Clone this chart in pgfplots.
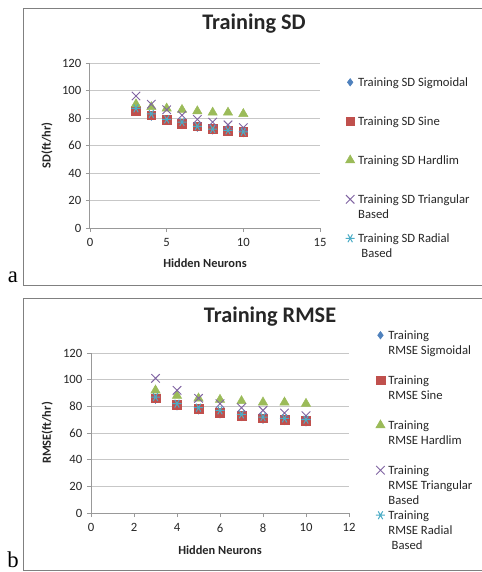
\documentclass[border=0pt]{standalone}
\usepackage{fontspec}
\setmainfont{Carlito}
\newfontfamily\serifl{Liberation Serif}
\usepackage{pgfplots}
\pgfplotsset{compat=1.18}
\definecolor{xlblue}{HTML}{4F81BD}
\definecolor{xlred}{HTML}{C0504D}
\definecolor{xlgreen}{HTML}{9BBB59}
\definecolor{xlpurple}{HTML}{8064A2}
\definecolor{xlcyan}{HTML}{4BACC6}
\newcommand{\lt}[1]{\parbox[t]{100pt}{\raggedright #1}}
\pgfplotsset{
  chartstyle/.style={
    scale only axis,
    axis x line*=bottom, axis y line*=left,
    axis line style={draw=black!40, line width=0.75pt},
    ymin=0, ymax=120, ytick={0,20,...,120},
    ymajorgrids, major grid style={draw=black!22, line width=0.75pt},
    tick align=outside, major tick length=3pt,
    tick style={draw=black!40, line width=0.6pt},
    tick label style={font=\fontsize{9.5}{11}\selectfont, text=black!85},
    xticklabel style={yshift=-1.5pt},
    /pgf/number format/assume math mode=true,
    title style={anchor=center, font=\fontsize{16.7}{20}\selectfont\bfseries, text=black!85},
    label style={font=\fontsize{9.3}{11}\selectfont\bfseries, text=black!85},
    only marks, clip=false,
    legend image code/.code={\draw[##1] plot coordinates {(0pt,0pt)};},
    legend style={draw=none, fill=none, inner sep=0pt, column sep=2.5pt,
      font=\fontsize{9.5}{11.25}\selectfont, text=black!85,
      cells={anchor=base west},
      nodes={inner sep=0pt, yshift=-3pt, text height=7pt}},
  },
  s1/.style={mark=diamond*, mark size=2.8pt, color=xlblue},
  s2/.style={mark=square*, mark size=3.3pt, color=xlred},
  s3/.style={mark=triangle*, mark size=4pt, color=xlgreen},
  s4/.style={mark=x, mark size=4.5pt, color=xlpurple, line width=0.7pt},
  s5/.style={mark=asterisk, mark size=3.4pt, color=xlcyan, line width=0.75pt, every mark/.append style={rotate=90}},
}
\begin{document}
\begin{tikzpicture}[x=0.75pt,y=-0.75pt]
\useasboundingbox (0,0) rectangle (482,572);
\draw[black!50, line width=0.9pt] (495,8.5) -- (23.5,8.5) -- (23.5,285.5) -- (495,285.5);
\draw[black!50, line width=0.9pt] (495,298.5) -- (23.5,298.5) -- (23.5,570.5) -- (495,570.5);
\node[font=\serifl\fontsize{17}{20}\selectfont] at (13,277) {a};
\node[font=\serifl\fontsize{17}{20}\selectfont] at (13,560) {b};

% ---------- panel a ----------
\begin{axis}[chartstyle,
  at={(67.5pt,-171pt)}, anchor=south west,
  width=172.5pt, height=123.75pt,
  xmin=0, xmax=15, xtick={0,5,10,15},
  title={Training SD}, title style={at={(axis description cs:0.713,1.188)}},
  xlabel={Hidden Neurons}, xlabel style={at={(axis description cs:0.5,-0.212)}, anchor=center},
  ylabel={SD(ft/hr)}, ylabel style={at={(axis description cs:-0.187,0.5)}, anchor=center},
  legend style={at={(axis description cs:1.11,0.917)}, anchor=north west,
    nodes={text depth=22.25pt}},
]
\addplot[s1] coordinates {(3,85) (4,81) (5,78) (6,75) (7,73) (8,71) (9,70) (10,69)};
\addlegendentry{\lt{Training SD Sigmoidal}}
\addplot[s2] coordinates {(3,85) (4,82) (5,79) (6,76) (7,74) (8,72) (9,71) (10,70)};
\addlegendentry{\lt{Training SD Sine}}
\addplot[s3] coordinates {(3,90) (4,88) (5,87) (6,86) (7,85) (8,84) (9,84) (10,83)};
\addlegendentry{\lt{Training SD Hardlim}}
\addplot[s4] coordinates {(3,96) (4,90) (5,86) (6,82) (7,79) (8,77) (9,75) (10,73)};
\addlegendentry{\lt{Training SD Triangular\\Based}}
\addplot[s5] coordinates {(3,87) (4,83) (5,79) (6,77) (7,74) (8,72) (9,71) (10,70)};
\addlegendentry{\lt{Training SD Radial\\\hspace*{2.5pt}Based}}
\end{axis}

% ---------- panel b ----------
\begin{axis}[chartstyle,
  at={(68.25pt,-384.75pt)}, anchor=south west,
  width=193.5pt, height=120pt,
  xmin=0, xmax=12, xtick={0,2,...,12},
  title={Training RMSE}, title style={at={(axis description cs:0.694,1.18)}},
  xlabel={Hidden Neurons}, xlabel style={at={(axis description cs:0.5,-0.231)}, anchor=center},
  ylabel={RMSE(ft/hr)}, ylabel style={at={(axis description cs:-0.17,0.5)}, anchor=center},
  legend style={at={(axis description cs:1.103,1.146)}, anchor=north west,
    nodes={text depth=26.75pt, /tikz/execute at begin node={\baselineskip=12pt}}},
]
\addplot[s1] coordinates {(3,85) (4,80) (5,77) (6,74) (7,72) (8,70) (9,69) (10,68)};
\addlegendentry{\lt{Training\\RMSE Sigmoidal}}
\addplot[s2] coordinates {(3,86) (4,81) (5,78) (6,75) (7,73) (8,71) (9,70) (10,69)};
\addlegendentry{\lt{Training\\RMSE Sine}}
\addplot[s3] coordinates {(3,92) (4,88) (5,86) (6,85) (7,84) (8,83) (9,83) (10,82)};
\addlegendentry{\lt{Training\\RMSE Hardlim}}
\addplot[s4] coordinates {(3,101) (4,92) (5,86) (6,82) (7,79) (8,77) (9,75) (10,73)};
\addlegendentry{\lt{Training\\RMSE Triangular\\Based}}
\addplot[s5] coordinates {(3,87) (4,82) (5,79) (6,77) (7,74) (8,72) (9,71) (10,70)};
\addlegendentry{\lt{Training\\RMSE Radial\\\hspace*{2.5pt}Based}}
\end{axis}
\end{tikzpicture}
\end{document}
